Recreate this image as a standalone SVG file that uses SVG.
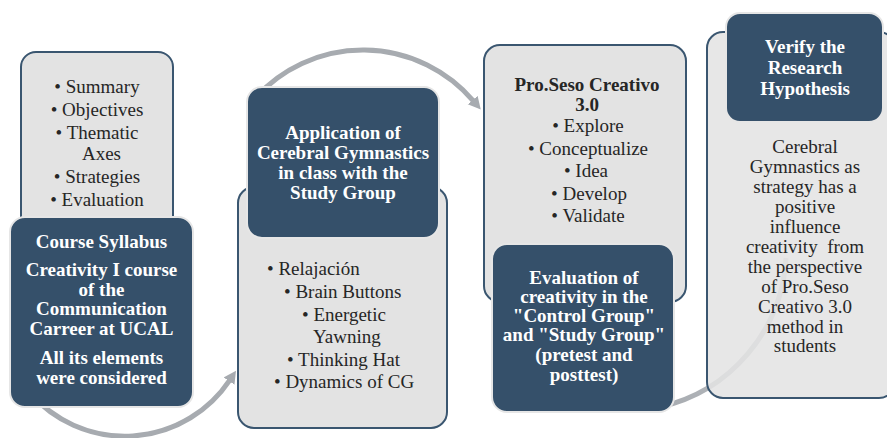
<svg xmlns="http://www.w3.org/2000/svg" width="887" height="438" viewBox="0 0 887 438">
  <style>
    .panel { fill: #e3e3e3; stroke: #3a5670; stroke-width: 2; }
    .panel-see { fill-opacity: 0.86; }
    .head { fill: #35506a; stroke: #e6e6e6; stroke-width: 2; }
    text { font-family: "Liberation Serif", "Times New Roman", serif; font-size: 19px; }
    .ht { fill: #ffffff; font-weight: bold; text-anchor: middle; }
    .bt { fill: #262626; }
    .c { text-anchor: middle; }
    .bold { font-weight: bold; }
    .arc { fill: none; stroke: #a7abb0; stroke-width: 5; }
  </style>
  <defs>
    <marker id="head" markerUnits="userSpaceOnUse" markerWidth="14" markerHeight="14" viewBox="0 -7 14 14" refX="1" refY="0" orient="auto">
      <path d="M0,-6.5 L12.5,0 L0,6.5 z" fill="#a7abb0"/>
    </marker>
    <linearGradient id="fade" gradientUnits="userSpaceOnUse" x1="660" y1="407" x2="786" y2="258">
      <stop offset="0" stop-color="#a7abb0"/>
      <stop offset="1" stop-color="#c9ccd0"/>
    </linearGradient>
  </defs>

  <!-- connectors -->
  <g id="connectors">
    <path class="arc" d="M30,393 A126,126 0 0 0 229.6,380.3" marker-end="url(#head)"/>
    <path class="arc" d="M255,98.2 A145,145 0 0 1 473.3,100.8" marker-end="url(#head)"/>
    <path class="arc" d="M660,407 A162,162 0 0 0 786,258" style="stroke:url(#fade)"/>
  </g>

  <!-- step 1: course syllabus -->
  <g id="syllabus">
    <rect class="panel" x="21" y="52" width="152" height="210" rx="15"/>
    <text class="bt c" x="97" y="93">• Summary</text>
    <text class="bt c" x="97" y="116">• Objectives</text>
    <text class="bt c" x="97" y="138.5">• Thematic</text>
    <text class="bt c" x="101.5" y="160">Axes</text>
    <text class="bt c" x="97" y="183">• Strategies</text>
    <text class="bt c" x="97" y="205.5">• Evaluation</text>
    <rect class="head" x="10" y="217" width="183" height="190" rx="15"/>
    <text class="ht" x="101.5" y="248">Course Syllabus</text>
    <text class="ht" x="101.5" y="276">Creativity I course</text>
    <text class="ht" x="101.5" y="296">of the</text>
    <text class="ht" x="101.5" y="315">Communication</text>
    <text class="ht" x="101.5" y="335">Carreer at UCAL</text>
    <text class="ht" x="101.5" y="364">All its elements</text>
    <text class="ht" x="101.5" y="384">were considered</text>
  </g>

  <!-- step 2: application in class -->
  <g id="application">
    <rect class="panel" x="238" y="187" width="209" height="241" rx="16"/>
    <text class="bt" x="267" y="275">• Relajación</text>
    <text class="bt" x="284" y="298">• Brain Buttons</text>
    <text class="bt" x="302" y="320.5">• Energetic</text>
    <text class="bt" x="313" y="343">Yawning</text>
    <text class="bt" x="287" y="365.5">• Thinking Hat</text>
    <text class="bt" x="274" y="388">• Dynamics of CG</text>
    <rect class="head" x="247" y="87" width="192" height="151" rx="15"/>
    <text class="ht" x="343" y="139">Application of</text>
    <text class="ht" x="343" y="159">Cerebral Gymnastics</text>
    <text class="ht" x="343" y="179">in class with the</text>
    <text class="ht" x="343" y="199">Study Group</text>
  </g>

  <!-- step 3: evaluation -->
  <g id="evaluation">
    <rect class="panel" x="484" y="45" width="202" height="257" rx="16"/>
    <text class="bt c bold" x="587" y="91">Pro.Seso Creativo</text>
    <text class="bt c bold" x="587" y="111">3.0</text>
    <text class="bt c" x="588" y="132">• Explore</text>
    <text class="bt c" x="588" y="154.5">• Conceptualize</text>
    <text class="bt c" x="586" y="177">• Idea</text>
    <text class="bt c" x="589" y="199.5">• Develop</text>
    <text class="bt c" x="588" y="222">• Validate</text>
    <rect class="head" x="492" y="244" width="182" height="168" rx="15"/>
    <text class="ht" x="584" y="284">Evaluation of</text>
    <text class="ht" x="584" y="303">creativity in the</text>
    <text class="ht" x="584" y="322">"Control Group"</text>
    <text class="ht" x="584" y="341">and "Study Group"</text>
    <text class="ht" x="584" y="361">(pretest and</text>
    <text class="ht" x="584" y="381">posttest)</text>
  </g>

  <!-- step 4: hypothesis -->
  <g id="hypothesis">
    <rect class="panel panel-see" x="707" y="32" width="188" height="366" rx="16"/>
    <text class="bt c" x="805" y="153">Cerebral</text>
    <text class="bt c" x="805" y="173">Gymnastics as</text>
    <text class="bt c" x="805" y="193">strategy has a</text>
    <text class="bt c" x="805" y="212.5">positive</text>
    <text class="bt c" x="805" y="232.5">influence</text>
    <text class="bt c" x="805" y="252.5" xml:space="preserve">creativity  from</text>
    <text class="bt c" x="805" y="272.5">the perspective</text>
    <text class="bt c" x="805" y="292.5">of Pro.Seso</text>
    <text class="bt c" x="805" y="312.5">Creativo 3.0</text>
    <text class="bt c" x="805" y="332.5">method in</text>
    <text class="bt c" x="805" y="352">students</text>
    <rect class="head" x="726" y="13" width="157" height="109" rx="14"/>
    <text class="ht" x="805" y="53">Verify the</text>
    <text class="ht" x="805" y="74">Research</text>
    <text class="ht" x="805" y="95">Hypothesis</text>
  </g>
</svg>
